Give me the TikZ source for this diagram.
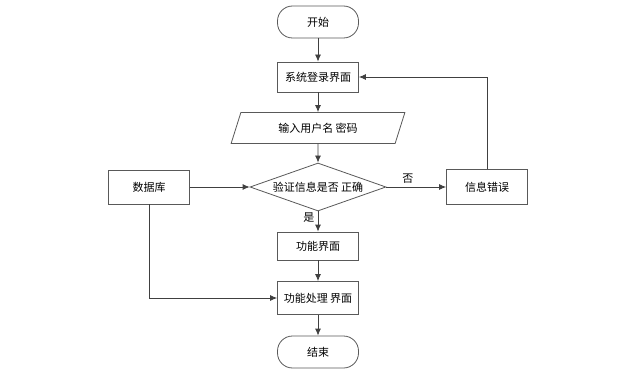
\documentclass[tikz,border=0pt]{standalone}
\usepackage{fontspec}
\setmainfont{Noto Sans CJK SC}
\usetikzlibrary{arrows.meta,shapes.geometric}
\definecolor{FlowLine}{HTML}{404040}
\definecolor{FlowEdge}{HTML}{595959}
\tikzset{
  flowbox/.style={draw=FlowEdge,line width=0.8pt,fill=white,
    minimum width=81pt,minimum height=30pt,inner sep=0pt},
  flowterm/.style={flowbox,rounded corners=15pt,minimum height=32pt},
  flowio/.style={draw=FlowEdge,line width=0.8pt,fill=white,trapezium,
    trapezium left angle=64,trapezium right angle=116,
    trapezium stretches=true,minimum width=175pt,minimum height=31pt,inner sep=0pt},
  flowtest/.style={draw=FlowEdge,line width=0.8pt,fill=white,diamond,
    aspect=2.83,minimum width=136pt,minimum height=48pt,inner sep=0pt},
  flowarrow/.style={-{Latex[length=7pt,width=6pt]},FlowLine,line width=0.8pt},
}
\begin{document}
\begin{tikzpicture}[x=1pt,y=-1pt,font=\fontsize{11}{13}\selectfont]
        \useasboundingbox (0,0) rectangle (637,377);

        \node[flowterm] (start) at (318,22) {开始};
        \node[flowbox] (login) at (318,77) {系统登录界面};
        \node[flowio] (input) at (318,128) {输入用户名 密码};
        \node[flowtest] (check) at (318,187) {验证信息是否 正确};
        \node[flowbox,minimum height=34pt] (db) at (149,187) {数据库};
        \node[flowbox,minimum height=35pt] (err) at (487,187) {信息错误};
        \node[flowbox,minimum height=28pt] (func) at (318,246) {功能界面};
        \node[flowbox,minimum height=33pt] (proc) at (318,298) {功能处理 界面};
        \node[flowterm] (stop) at (318,352) {结束};

        \draw[flowarrow] (start) -- (login);
        \draw[flowarrow] (login) -- (input);
        \draw[flowarrow] (input) -- (check);
        \draw[flowarrow] (db) -- (check);
        \draw[flowarrow] (check) -- node[above,pos=0.36,text=black] (no) {否} (err);
        \draw[flowarrow] (check) -- node[left,pos=0.3,text=black] (yes) {是} (func);
        \draw[flowarrow] (err.north) |- (login.east);
        \draw[flowarrow] (func) -- (proc);
        \draw[flowarrow] (db.south) |- (proc.west);
        \draw[flowarrow] (proc) -- (stop);
      \end{tikzpicture}
\end{document}
